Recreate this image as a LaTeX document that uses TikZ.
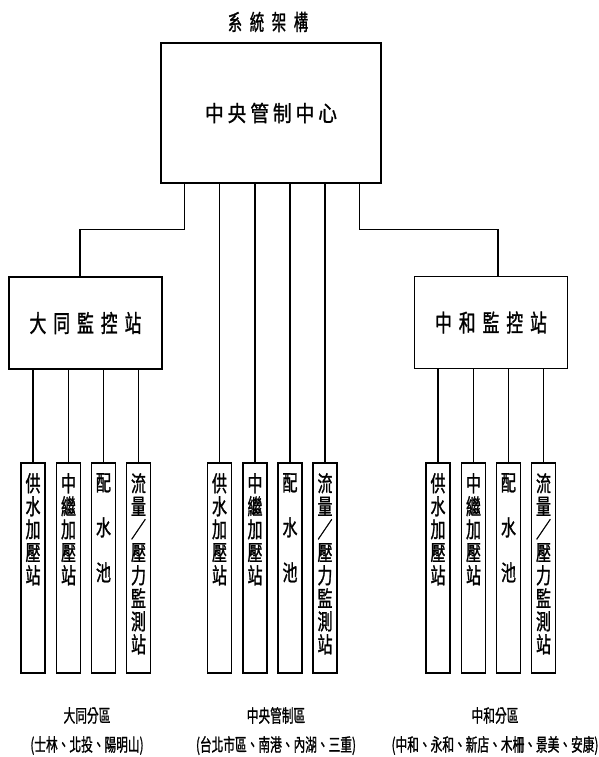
\documentclass[tikz,border=0pt]{standalone}
\usepackage{fontspec}
\usepackage{tikz}
\usetikzlibrary{positioning, calc}
\newfontfamily\titlefont[FakeStretch=0.65,LetterSpace=35,FakeBold=1.2]{Noto Sans CJK TC}
\newfontfamily\ctrfont[FakeStretch=0.85,LetterSpace=18,FakeBold=1.2]{Noto Sans CJK TC}
\newfontfamily\stnfont[FakeStretch=0.7,LetterSpace=29,FakeBold=1.2]{Noto Sans CJK TC}
\newfontfamily\unitfont[FakeStretch=0.68,FakeBold=1.2]{Noto Sans CJK TC}
\newfontfamily\areafont[FakeStretch=0.65,FakeBold=1]{Noto Sans CJK TC}
\tikzset{
	titlelbl/.style={inner sep=0pt, font=\titlefont\fontsize{22}{24}\selectfont},
	mainbox/.style ={rectangle, draw=black, line width=1.5pt, inner sep=0pt, minimum width=220pt, minimum height=140pt, font=\ctrfont\fontsize{22}{24}\selectfont},
	stnbox/.style  ={rectangle, draw=black, line width=1.5pt, inner sep=0pt, minimum width=153pt, minimum height=92pt, font=\stnfont\fontsize{24}{26}\selectfont},
	unitbox/.style ={rectangle, draw=black, line width=1.5pt, inner sep=0pt, minimum width=24pt, minimum height=210pt, anchor=north},
	unittext/.style={anchor=north, inner sep=0pt, align=center, font=\unitfont\fontsize{22}{23}\selectfont},
	arealbl/.style ={inner sep=0pt, align=center, font=\areafont\fontsize{18}{29}\selectfont},
	wire/.style    ={line width=1.4pt},
}
\begin{document}
\begin{tikzpicture}[x=1pt, y=-1pt]
	\useasboundingbox (0,0) rectangle (599,757);
	% title and control centre
	\node[titlelbl] (title) at (268,22) {系統架構};
	\node[mainbox] (ctr) at (271,113) {中央管制中心};
	% monitoring stations
	\node[stnbox] (dtstn) at (85.5,323) {大同監控站};
	\node[stnbox] (zhstn) at (491,322.5) {中和監控站};
	\draw[wire] ([xshift=24pt]ctr.south west) -- ++(0,46) -| ([xshift=-5.5pt]dtstn.north);
	\draw[wire] ([xshift=-22pt]ctr.south east) -- ++(0,46) -| ([xshift=7pt]zhstn.north);
	% field units
	\foreach \g/\gx in {L/33, C/219.5, R/438} {
		\foreach \i/\dx/\txt in {1/0/{供\\水\\加\\壓\\站}, 2/35.5/{中\\繼\\加\\壓\\站}, 3/70.5/{配\\[22pt]水\\[22pt]池}, 4/105.5/{流\\量\\／\\壓\\力\\監\\測\\站}} {
			\node[unitbox] (u\g\i) at (\gx+\dx,462) {};
			\node[unittext] (t\g\i) at (\gx+\dx,473) {\txt};
		}
	}
	\foreach \i in {1,...,4} {
		\draw[wire] (uL\i.north) -- (uL\i.north |- dtstn.south);
		\draw[wire] (uC\i.north) -- (uC\i.north |- ctr.south);
		\draw[wire] (uR\i.north) -- (uR\i.north |- zhstn.south);
	}
	% service areas
	\node[arealbl] (dtarea) at (87,731) {大同分區\\(士林、北投、陽明山)};
	\node[arealbl] (ctarea) at (276,731) {中央管制區\\(台北市區、南港、內湖、三重)};
	\node[arealbl] (zharea) at (495,731) {中和分區\\(中和、永和、新店、木柵、景美、安康)};
\end{tikzpicture}
\end{document}
